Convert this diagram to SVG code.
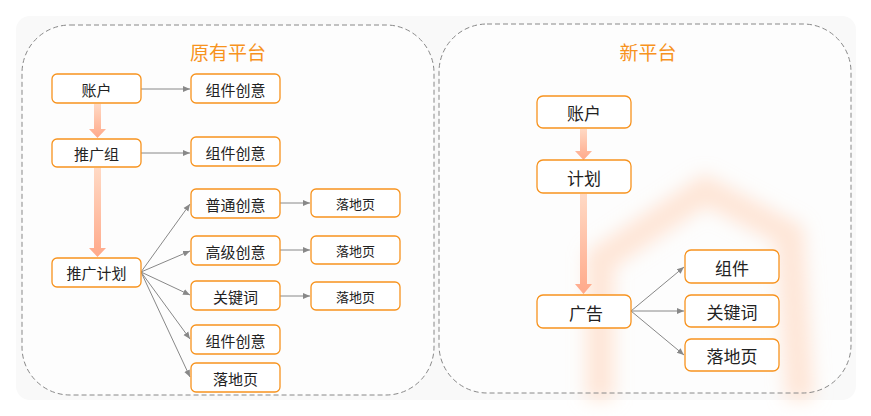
<svg xmlns="http://www.w3.org/2000/svg" width="871" height="416" viewBox="0 0 871 416">
<style>
.n rect{fill:#fff;stroke:#f7931e;stroke-width:1.3}
.n text{font-family:"Noto Sans CJK SC",sans-serif;font-size:15px;fill:#222;text-anchor:middle;dominant-baseline:central}
.r text{font-size:17px}
.t{font-family:"Noto Sans CJK SC",sans-serif;font-size:19px;fill:#f7931e;text-anchor:middle}
.c line{stroke:#888;stroke-width:1;marker-end:url(#a)}
.big{fill:url(#g)}
</style>
<defs>
<marker id="a" markerWidth="8" markerHeight="8" refX="7" refY="4" orient="auto" markerUnits="userSpaceOnUse"><path d="M0,1 L7,4 L0,7z" fill="#888"/></marker>
<linearGradient id="g" x1="0" y1="0" x2="0" y2="1"><stop offset="0" stop-color="#ffd9c4"/><stop offset="1" stop-color="#ffa98a"/></linearGradient>
<filter id="blur" x="-20%" y="-20%" width="140%" height="140%"><feGaussianBlur stdDeviation="9"/></filter>
</defs>
<rect width="871" height="416" fill="#fff"/>
<rect x="16" y="16" width="840" height="384" rx="14" fill="#f9f9f9"/>
<rect x="22" y="25" width="412" height="370" rx="48" fill="#fff" fill-opacity="0.6"/>
<rect x="439" y="24" width="412" height="369" rx="48" fill="#fff" fill-opacity="0.6"/>
<path d="M600,400 L600,260 L705,190 L790,235 L800,400" fill="none" stroke="#ffd3b8" stroke-width="28" stroke-opacity="0.55" filter="url(#blur)"/>
<rect x="22" y="25" width="412" height="370" rx="48" fill="none" stroke="#888" stroke-dasharray="5,3"/>
<rect x="439" y="24" width="412" height="369" rx="48" fill="none" stroke="#888" stroke-dasharray="5,3"/>
<text class="t" x="228" y="60">原有平台</text>
<text class="t" x="648" y="60">新平台</text>
<g id="connectors">
<path class="big" d="M94,104 h7 v25 h5 l-8.5,9 l-8.5,-9 h5z"/>
<path class="big" d="M94,168 h7 v80 h5 l-8.5,9 l-8.5,-9 h5z"/>
<path class="big" d="M580,129 h7 v22 h5 l-8.5,9 l-8.5,-9 h5z"/>
<path class="big" d="M580,194 h7 v90 h5 l-8.5,10 l-8.5,-10 h5z"/>
<g class="c">
<line x1="141" y1="89" x2="190" y2="89"/>
<line x1="141" y1="153" x2="190" y2="153"/>
<line x1="141" y1="272" x2="190" y2="204"/>
<line x1="141" y1="272" x2="190" y2="251"/>
<line x1="141" y1="272" x2="190" y2="295"/>
<line x1="141" y1="272" x2="190" y2="339"/>
<line x1="141" y1="272" x2="190" y2="377"/>
<line x1="280" y1="203" x2="310" y2="203"/>
<line x1="280" y1="250" x2="310" y2="250"/>
<line x1="280" y1="296" x2="310" y2="296"/>
<line x1="631" y1="311" x2="684" y2="267"/>
<line x1="631" y1="311" x2="684" y2="311"/>
<line x1="631" y1="311" x2="684" y2="355"/>
</g>
</g>
<g id="n1" class="n"><rect x="52" y="74" width="89" height="29" rx="5"/><text x="96.5" y="89">账户</text></g>
<g id="n2" class="n"><rect x="52" y="139" width="89" height="28" rx="5"/><text x="96.5" y="153">推广组</text></g>
<g id="n3" class="n"><rect x="52" y="258" width="89" height="29" rx="5"/><text x="96.5" y="272.5">推广计划</text></g>
<g id="n4" class="n"><rect x="191" y="74" width="89" height="29" rx="5"/><text x="235.5" y="89">组件创意</text></g>
<g id="n5" class="n"><rect x="191" y="137" width="89" height="29" rx="5"/><text x="235.5" y="152">组件创意</text></g>
<g id="n6" class="n"><rect x="191" y="189" width="89" height="29" rx="5"/><text x="235.5" y="204">普通创意</text></g>
<g id="n7" class="n"><rect x="191" y="236" width="89" height="29" rx="5"/><text x="235.5" y="251">高级创意</text></g>
<g id="n8" class="n"><rect x="191" y="281" width="89" height="29" rx="5"/><text x="235.5" y="296">关键词</text></g>
<g id="n9" class="n"><rect x="191" y="325" width="89" height="29" rx="5"/><text x="235.5" y="340">组件创意</text></g>
<g id="n10" class="n"><rect x="191" y="363" width="89" height="29" rx="5"/><text x="235.5" y="378">落地页</text></g>
<g id="n11" class="n"><rect x="311" y="189" width="89" height="28" rx="5"/><text x="355.5" y="203.5" style="font-size:13px">落地页</text></g>
<g id="n12" class="n"><rect x="311" y="236" width="89" height="28" rx="5"/><text x="355.5" y="250.5" style="font-size:13px">落地页</text></g>
<g id="n13" class="n"><rect x="311" y="282" width="89" height="28" rx="5"/><text x="355.5" y="296.5" style="font-size:13px">落地页</text></g>
<g id="r1" class="n r"><rect x="537" y="96" width="94" height="32" rx="6"/><text x="584" y="112">账户</text></g>
<g id="r2" class="n r"><rect x="537" y="160" width="94" height="33" rx="6"/><text x="584" y="177">计划</text></g>
<g id="r3" class="n r"><rect x="537" y="295" width="94" height="33" rx="6"/><text x="586" y="312">广告</text></g>
<g id="r4" class="n r"><rect x="685" y="250" width="94" height="33" rx="6"/><text x="732" y="267">组件</text></g>
<g id="r5" class="n r"><rect x="685" y="295" width="94" height="32" rx="6"/><text x="732" y="311">关键词</text></g>
<g id="r6" class="n r"><rect x="685" y="339" width="94" height="32" rx="6"/><text x="732" y="355">落地页</text></g>
</svg>
